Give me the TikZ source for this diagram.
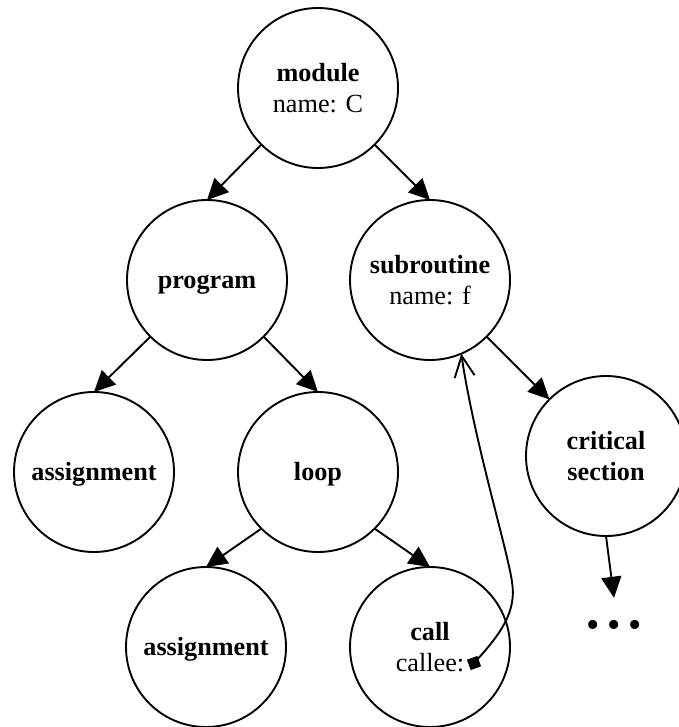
\documentclass[tikz,border=0pt]{standalone}
\usepackage{fontspec}
\setmainfont{Liberation Serif}
\usetikzlibrary{arrows.meta,calc}
\begin{document}
\begin{tikzpicture}[x=1pt,y=-1pt,
  every node/.style={font=\fontsize{26.2}{31.5}\selectfont},
  state/.style={circle,draw,line width=1.9pt,minimum size=160pt,inner sep=0pt,outer sep=0pt,align=center},
  single/.style={text height=18pt,text depth=2pt},
  edge/.style={line width=1.9pt,-{Triangle[length=21pt,width=20pt]}},
  port/.style={fill,inner sep=0pt,minimum size=11pt,rotate=20},
  ref/.style={line width=1.9pt,-{Straight Barb[length=21pt,width=20pt]}}]
\useasboundingbox (0,0) rectangle (678,727);

% tree nodes
\node[state] (module) at (318,88) {\textbf{module}\\name: C};
\node[state,single] (program) at (207,280) {\textbf{program}};
\node[state] (subroutine) at (430,280) {\textbf{subroutine}\\name: f};
\node[state,single] (assign1) at (94,472) {\textbf{assignment}};
\node[state,single] (loop) at (318,472) {\textbf{loop}};
\node[state] (critical) at (606,456) {\textbf{critical}\\\textbf{section}};
\node[state,single] (assign2) at (206,647) {\textbf{assignment}};
\node[state] (call) at (430,647) {\textbf{call}\\callee:\hspace{8pt}};
\node[inner sep=0pt,minimum height=54pt,text height=24pt,text depth=0pt,
  font=\fontsize{38}{40}\selectfont] (dots) at (614,625)
  {•\hspace{8pt}•\hspace{8pt}•};

% port of the call node
\node[port] (callee) at ($(call.center)+(44,16)$) {};

% child edges
\draw[edge] (module.south west) -- (program.north);
\draw[edge] (module.south east) -- (subroutine.north);
\draw[edge] (program.south west) -- (assign1.north);
\draw[edge] (program.south east) -- (loop.north);
\draw[edge] (subroutine.south east) -- (critical.north west);
\draw[edge] (loop.south west) -- (assign2.north);
\draw[edge] (loop.south east) -- (call.north);
\draw[edge] (critical.south) -- (dots.north);

% callee reference back to the subroutine
\draw[ref] (callee.center) .. controls (500,635) and (517,612) .. (512,582)
  .. controls (508,552) and (474,440) .. (subroutine.-67);
\end{tikzpicture}
\end{document}
